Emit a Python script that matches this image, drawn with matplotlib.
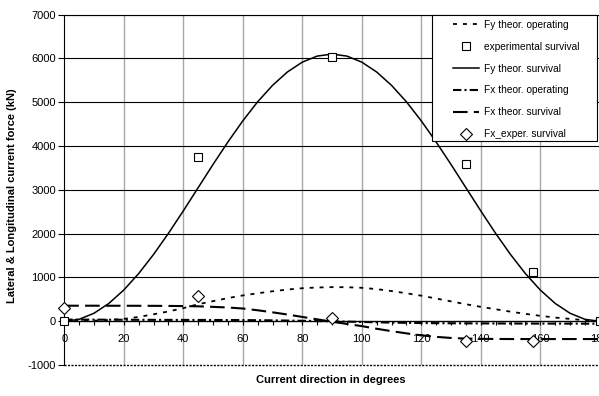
import matplotlib
matplotlib.use('Agg')
import matplotlib.pyplot as plt
from matplotlib.patches import Rectangle
from matplotlib.ticker import MultipleLocator

plt.rcParams['font.family'] = ['Liberation Sans', 'DejaVu Sans']
plt.rcParams['axes.unicode_minus'] = False

# ---------------- data ----------------
angle_curve = [0, 5, 10, 15, 20, 25, 30, 35, 40, 45, 50, 55, 60, 65, 70, 75, 80, 85, 90,
               95, 100, 105, 110, 115, 120, 125, 130, 135, 140, 145, 150, 155, 160, 165, 170, 175, 180]
fy_survival = [0, 46, 184, 409, 714, 1089, 1525, 2007, 2520, 3050, 3580, 4093, 4575, 5011, 5386, 5691, 5916, 6054, 6100,
               6054, 5916, 5691, 5386, 5011, 4575, 4093, 3580, 3050, 2520, 2007, 1525, 1089, 714, 409, 184, 46, 0]
fy_operating = [0, 5, 15, 30, 55, 100, 160, 225, 300, 390, 460, 530, 590, 640, 685, 725, 755, 772, 780,
                778, 765, 735, 690, 640, 585, 520, 455, 390, 330, 275, 220, 170, 125, 85, 55, 25, 10]
fx_survival = [356, 356, 356, 355, 355, 354, 353, 351, 348, 342, 330, 315, 292, 252, 205, 155, 100, 45, -10,
               -60, -110, -170, -225, -275, -320, -355, -380, -395, -400, -403, -405, -405, -405, -405, -405, -405, -405]

angle_fx_op = [0, 10, 20, 30, 40, 50, 60, 70, 80, 90, 100, 110, 120, 130, 140, 150, 160, 170, 180]
fx_operating = [40, 38, 35, 33, 32, 30, 28, 22, 12, 0, -15, -30, -40, -45, -48, -50, -52, -53, -55]

angle_exp = [0, 45, 90, 135, 157.5, 180]
fy_exp_survival = [0, 3758, 6040, 3590, 1130, 0]

angle_fx_exp = [0, 45, 90, 135, 157.5]
fx_exp_survival = [311, 570, 70, -443, -443]

x_ticks = [0, 20, 40, 60, 80, 100, 120, 140, 160, 180]
y_ticks = [-1000, 0, 1000, 2000, 3000, 4000, 5000, 6000, 7000]

labels = ["Fy theor. operating", "experimental survival", "Fy theor. survival",
          "Fx theor. operating", "Fx theor. survival", "Fx_exper. survival"]

# ---------------- figure ----------------
fig = plt.figure(figsize=(5.99, 3.96), dpi=100)
ax = fig.add_axes([0.1073, 0.078, 0.894, 0.885])

ax.plot(angle_curve, fy_operating, color='black', lw=1.3, ls=(0, (2.2, 3.3)), zorder=3, label=labels[0])
ax.plot(angle_exp, fy_exp_survival, ls='none', marker='s', ms=6.3, mfc='white', mec='black',
        mew=0.8, zorder=6, clip_on=False, label=labels[1])
ax.plot(angle_curve, fy_survival, color='black', lw=1.1, zorder=3, label=labels[2])
ax.plot(angle_fx_op, fx_operating, color='black', lw=1.5, ls=(0, (4, 1.5, 1, 1.5)), zorder=3, label=labels[3])
ax.plot(angle_curve, fx_survival, color='black', lw=1.5, ls=(0, (7, 3)), zorder=3, label=labels[4])
ax.plot(angle_fx_exp, fx_exp_survival, ls='none', marker='D', ms=5.7, mfc='white', mec='black',
        mew=0.8, zorder=6, clip_on=False, label=labels[5])

ax.set_xlim(0, 180)
ax.set_ylim(-1000, 7000)
ax.set_xticks(x_ticks)
ax.set_yticks(y_ticks)
ax.xaxis.set_minor_locator(MultipleLocator(5))

# grid
for yv in y_ticks[1:]:
    ax.axhline(yv, color='black', lw=0.8, zorder=1)
for xv in x_ticks[1:-1]:
    ax.axvline(xv, color='#a8a8a8', lw=1.0, zorder=0.9)

# spines
ax.spines['bottom'].set_position(('data', 0))
ax.spines['bottom'].set_linewidth(0.9)
ax.spines['top'].set_linewidth(0.8)
for s in ['left', 'right']:
    ax.spines[s].set_linestyle((0, (1.5, 1)))
    ax.spines[s].set_linewidth(0.8)
ax.axhline(-1000, color='black', lw=1.0, ls=(0, (1.5, 1)), clip_on=False, zorder=4)

ax.tick_params(axis='x', which='both', direction='out', length=3, width=0.8, pad=6, labelsize=8)
ax.tick_params(axis='y', which='major', direction='out', length=4, width=0.8, pad=2, labelsize=8)

# legend box + legend
rect = Rectangle((0.686, 0.6404), 0.308, 0.3596, transform=ax.transAxes, facecolor='white',
                 edgecolor='black', lw=0.8, zorder=7, clip_on=False)
ax.add_patch(rect)
leg = ax.legend(loc='upper left', bbox_to_anchor=(0.725, 0.985), borderaxespad=0, borderpad=0,
                frameon=False, fontsize=7.3, handlelength=2.6, handletextpad=0.5, labelspacing=1.17)
leg.set_zorder(8)

fig.text(0.553, 0.040, "Current direction in degrees", ha='center', va='center',
         fontsize=8, fontweight='bold')
fig.text(0.020, 0.507, "Lateral & Longitudinal current force (kN)", ha='center', va='center',
         rotation=90, fontsize=8, fontweight='bold')

fig.savefig('out.png', dpi=100)
